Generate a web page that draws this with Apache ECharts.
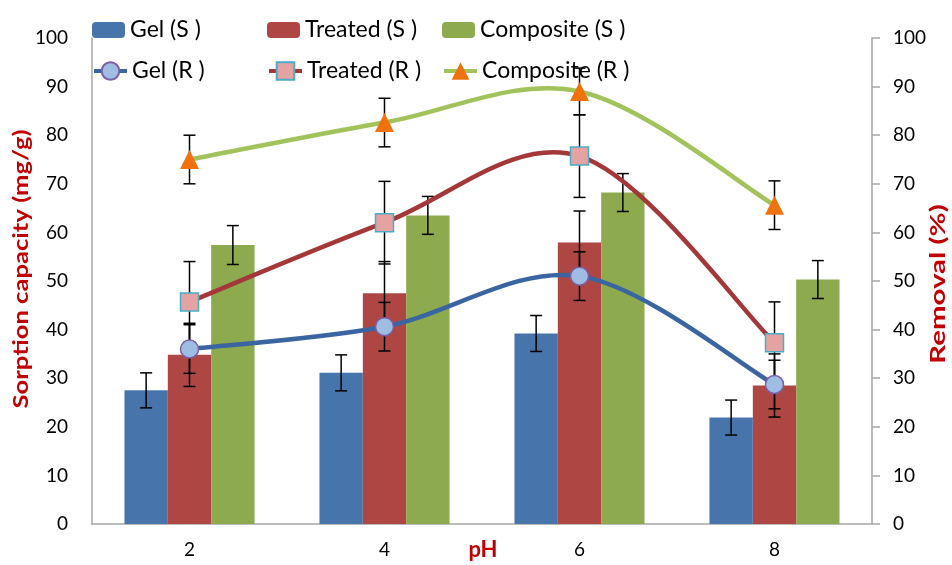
<!DOCTYPE html>
<html>
<head>
<meta charset="utf-8">
<script src="https://cdn.jsdelivr.net/npm/echarts@6/dist/echarts.min.js"></script>
<style>html,body{margin:0;padding:0;background:#fff}#c{width:952px;height:565px}</style>
</head>
<body>
<div id="c"></div>
<script>
// ---- data ----
var categories = ['2', '4', '6', '8'];
var gelS = [27.5, 31.1, 39.2, 21.9];
var treatedS = [34.8, 47.5, 57.9, 28.5];
var compositeS = [57.4, 63.5, 68.2, 50.3];
var gelR = [36.0, 40.6, 51.0, 28.7];
var treatedR = [45.7, 62.0, 75.7, 37.3];
var compositeR = [75.0, 82.6, 89.0, 65.6];
var gelSErr = [3.6, 3.7, 3.7, 3.6];
var treatedSErr = [6.5, 6.5, 6.5, 6.5];
var compositeSErr = [4.0, 3.9, 3.9, 3.9];
var gelRErr = [5, 5, 5, 5];
var treatedRErr = [8.3, 8.5, 8.5, 8.4];
var compositeRErr = [5, 5, 4.8, 5];
var names = ['Gel (S )', 'Treated (S )', 'Composite (S )', 'Gel (R )', 'Treated (R )', 'Composite (R )'];

var GAP = 0.333;
var C = {
  gelBar: '#4874ac', trBar: '#ae4744', coBar: '#8dab4e',
  gelLine: '#3a65a0', trLine: '#a3373a', coLine: '#a2c35c'
};
var tickFont = 'Lato, "Open Sans", sans-serif';
var legFont = 'Lato, "Open Sans", sans-serif';

function errSeries(vals, errs, offIdx, yIdx) {
  return {
    type: 'custom', yAxisIndex: yIdx, z: 5, silent: true,
    data: vals.map(function (v, i) { return [i, v - errs[i], v + errs[i]]; }),
    renderItem: function (params, api) {
      var i = api.value(0);
      var pLo = api.coord([i, api.value(1)]);
      var pHi = api.coord([i, api.value(2)]);
      var catW = api.size([1, 0])[0];
      var bw = catW * (1 - GAP) / 3;
      var cx = pLo[0] + offIdx * bw;
      var hw = 6;
      var st = { stroke: '#000', lineWidth: 1.5 };
      return {
        type: 'group', children: [
          { type: 'line', shape: { x1: cx, y1: pLo[1], x2: cx, y2: pHi[1] }, style: st },
          { type: 'line', shape: { x1: cx - hw, y1: pLo[1], x2: cx + hw, y2: pLo[1] }, style: st },
          { type: 'line', shape: { x1: cx - hw, y1: pHi[1], x2: cx + hw, y2: pHi[1] }, style: st }
        ]
      };
    }
  };
}

// Excel-style smoothed curve (cardinal spline) drawn through the axis scales
function curveSeries(vals, color) {
  var n = vals.length;
  var K = 1 / 6;
  return {
    type: 'custom', yAxisIndex: 1, z: 7, silent: true,
    data: vals.slice(0, n - 1).map(function (v, i) { return [i, v]; }),
    renderItem: function (params, api) {
      var i = api.value(0);
      function P(j) { return api.coord([j, vals[j]]); }
      var p0 = P(i), p1 = P(i + 1);
      var pp = i > 0 ? P(i - 1) : p0;
      var pn = i + 2 < n ? P(i + 2) : p1;
      return {
        type: 'bezierCurve',
        shape: {
          x1: p0[0], y1: p0[1], x2: p1[0], y2: p1[1],
          cpx1: p0[0] + (p1[0] - pp[0]) * K, cpy1: p0[1] + (p1[1] - pp[1]) * K,
          cpx2: p1[0] - (pn[0] - p0[0]) * K, cpy2: p1[1] - (pn[1] - p0[1]) * K
        },
        style: { stroke: color, lineWidth: 4.5, fill: null, lineCap: 'round' }
      };
    }
  };
}

function legendAt(name, left, top, lineColor) {
  var l = {
    data: [name], left: left, top: top, padding: 0, itemGap: 0,
    itemWidth: 33, itemHeight: lineColor ? 22 : 16, selectedMode: false,
    textStyle: { fontSize: 23, fontFamily: legFont, color: '#000', lineHeight: 26 }
  };
  if (lineColor) l.lineStyle = { color: lineColor, width: 4, opacity: 1 };
  return l;
}

var chart = echarts.init(document.getElementById('c'), null, { renderer: 'canvas' });
chart.setOption({
  animation: false,
  backgroundColor: '#fff',
  grid: { left: 92, right: 80, top: 38, bottom: 41 },
  legend: [
    legendAt(names[0], 92, 17), legendAt(names[1], 267, 17), legendAt(names[2], 442, 17),
    legendAt(names[3], 92, 58, C.gelLine), legendAt(names[4], 267, 58, C.trLine), legendAt(names[5], 442, 58, C.coLine)
  ],
  xAxis: {
    type: 'category', data: categories,
    axisLine: { lineStyle: { color: '#a6a6a6', width: 1.5 } },
    axisTick: { show: false },
    axisLabel: { fontSize: 19, fontFamily: tickFont, color: '#000', margin: 16 }
  },
  yAxis: [
    {
      type: 'value', min: 0, max: 100, interval: 10,
      axisLine: { show: true, lineStyle: { color: '#a6a6a6', width: 1.5 } },
      axisTick: { show: false }, splitLine: { show: false },
      axisLabel: { fontSize: 19, fontFamily: tickFont, color: '#000', margin: 24 }
    },
    {
      type: 'value', min: 0, max: 100, interval: 10, position: 'right',
      axisLine: { show: true, lineStyle: { color: '#a6a6a6', width: 1.5 } },
      axisTick: { show: true, length: 8, lineStyle: { color: '#a6a6a6', width: 1.5 } },
      splitLine: { show: false },
      axisLabel: { fontSize: 19, fontFamily: tickFont, color: '#000', margin: 21 }
    }
  ],
  graphic: [
    { type: 'text', x: 21, y: 269, rotation: Math.PI / 2, scaleX: 1.22, z: 10,
      style: { text: 'Sorption capacity (mg/g)', fill: '#c00000', font: 'bold 21px Lato, sans-serif', textAlign: 'center', textVerticalAlign: 'middle' } },
    { type: 'text', x: 938, y: 284, rotation: Math.PI / 2, scaleX: 1.4, z: 10,
      style: { text: 'Removal (%)', fill: '#c00000', font: 'bold 21px Lato, sans-serif', textAlign: 'center', textVerticalAlign: 'middle' } },
    { type: 'text', x: 483, y: 550, z: 10,
      style: { text: 'pH', fill: '#c00000', font: 'bold 22px Lato, sans-serif', textAlign: 'center', textVerticalAlign: 'middle' } }
  ],
  series: [
    { name: names[0], type: 'bar', data: gelS, barGap: '0%', barCategoryGap: (GAP * 100) + '%', z: 2,
      itemStyle: { color: C.gelBar } },
    { name: names[1], type: 'bar', data: treatedS, barGap: '0%', barCategoryGap: (GAP * 100) + '%', z: 2,
      itemStyle: { color: C.trBar } },
    { name: names[2], type: 'bar', data: compositeS, barGap: '0%', barCategoryGap: (GAP * 100) + '%', z: 2,
      itemStyle: { color: C.coBar } },
    errSeries(gelS, gelSErr, -1, 0),
    errSeries(treatedS, treatedSErr, 0, 0),
    errSeries(compositeS, compositeSErr, 1, 0),
    errSeries(gelR, gelRErr, 0, 1),
    errSeries(treatedR, treatedRErr, 0, 1),
    errSeries(compositeR, compositeRErr, 0, 1),
    curveSeries(gelR, C.gelLine),
    curveSeries(treatedR, C.trLine),
    curveSeries(compositeR, C.coLine),
    { name: names[3], type: 'line', yAxisIndex: 1, data: gelR, z: 8,
      lineStyle: { color: C.gelLine, width: 4, opacity: 0 }, symbol: 'circle', symbolSize: 18,
      itemStyle: { color: '#9fbde3', borderColor: '#7b5ea5', borderWidth: 1.5 } },
    { name: names[4], type: 'line', yAxisIndex: 1, data: treatedR, z: 8,
      lineStyle: { color: C.trLine, width: 4, opacity: 0 }, symbol: 'rect', symbolSize: 18,
      itemStyle: { color: '#e4a3a2', borderColor: '#4bacc6', borderWidth: 1.5 } },
    { name: names[5], type: 'line', yAxisIndex: 1, data: compositeR, z: 8,
      lineStyle: { color: C.coLine, width: 4, opacity: 0 }, symbol: 'triangle', symbolSize: 19,
      itemStyle: { color: '#ef720f', borderWidth: 0 } }
  ]
});
</script>
</body>
</html>
